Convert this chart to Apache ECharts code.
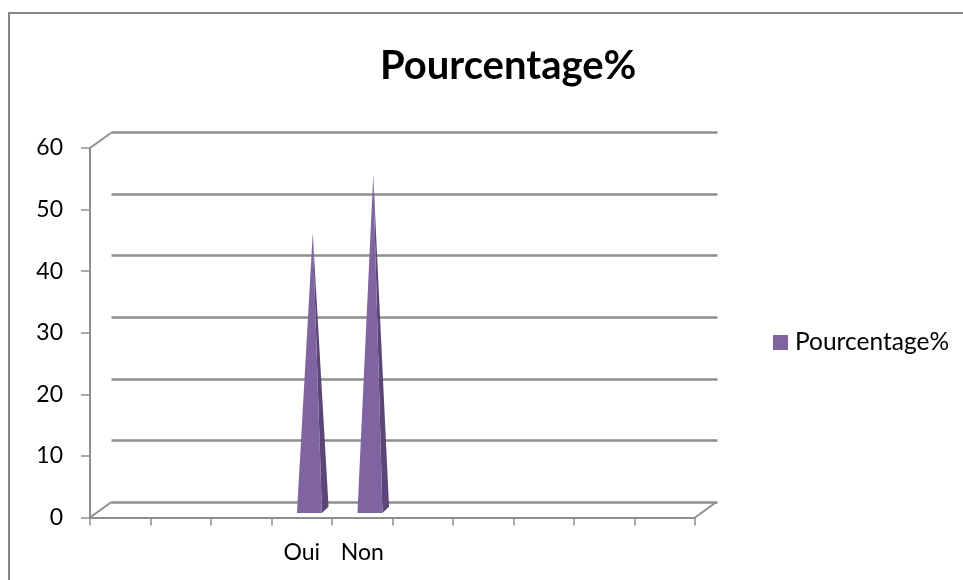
<!DOCTYPE html>
<html>
<head>
<meta charset="utf-8">
<style>
html, body { margin: 0; padding: 0; background: #fff; }
#chart { width: 963px; height: 580px; }
</style>
<script src="https://cdn.jsdelivr.net/npm/echarts@6/dist/echarts.min.js"></script>
</head>
<body>
<div id="chart"></div>
<script>
var titleText = 'Pourcentage%';
var seriesName = 'Pourcentage%';
var categories = ['', '', '', 'Oui', 'Non', '', '', '', '', ''];
var values = [null, null, null, 45, 54.4, null, null, null, null, null];

var gridColor = '#8e8e8e';
var purple = '#8064a2';
var purpleDark = '#5b4677';
var fontName = 'Lato';

// decalage du plan arriere (effet 3D d'Excel)
var depthX = 21.5, depthY = -15.5;

// diagonales qui relient le plan avant au plan arriere
var corners = [['left', 0], ['left', 60], ['right', 0]];

function renderCorner(params, api) {
	var rect = params.coordSys;
	var side = corners[params.dataIndex][0];
	var x = side == 'left' ? rect.x : rect.x + rect.width;
	var y = api.coord([0, corners[params.dataIndex][1]])[1];
	return {
		type: 'line',
		shape: { x1: x, y1: y, x2: x + depthX, y2: y + depthY },
		style: { stroke: gridColor, lineWidth: 2 }
	};
}

// une pyramide : face avant + face de cote
function renderPyramid(params, api) {
	var v = api.value(1);
	if (v == null || isNaN(v)) return;
	var base = api.coord([api.value(0), 0]);
	var top = api.coord([api.value(0), v]);
	var fx = base[0] + 7.7, fy = base[1] - 4.5;   // coin avant centre
	var half = 12.5, dx = 6.6, dy = -6.3;
	var tip = [fx + dx / 2, top[1] - 7.7];
	return {
		type: 'group',
		children: [{
			type: 'polygon',
			shape: { points: [[fx + half, fy], [fx + half + dx, fy + dy], tip] },
			style: { fill: purpleDark }
		}, {
			type: 'polygon',
			shape: { points: [[fx - half, fy], [fx + half, fy], tip] },
			style: { fill: purple }
		}]
	};
}

var chart = echarts.init(document.getElementById('chart'), null, { renderer: 'canvas' });
chart.setOption({
	animation: false,
	backgroundColor: '#fff',
	title: {
		text: titleText,
		left: 375,
		top: 41,
		textStyle: { fontFamily: fontName, fontSize: 40, fontWeight: 'bold', color: '#000' }
	},
	legend: {
		data: [{ name: seriesName, icon: 'rect', itemStyle: { color: purple } }],
		left: 768,
		top: 325,
		itemWidth: 15,
		itemHeight: 15,
		itemGap: 0,
		textStyle: { fontFamily: fontName, fontSize: 24.5, color: '#000', padding: [0, 0, 0, 2] }
	},
	graphic: [{
		type: 'rect',
		silent: true,
		shape: { x: 9, y: 13, width: 1000, height: 1000 },
		style: { fill: 'none', stroke: '#868686', lineWidth: 2 }
	}],
	grid: [
		{ left: 90, right: 268, top: 148, height: 369.5 },      // plan avant
		{ left: 111.5, right: 245.5, top: 132.5, height: 369.5 }  // plan arriere
	],
	xAxis: [{
		type: 'category',
		gridIndex: 0,
		data: categories,
		axisLine: { show: true, lineStyle: { color: gridColor, width: 2 } },
		axisTick: { show: true, alignWithLabel: false, length: 8, lineStyle: { color: gridColor, width: 1.5 } },
		axisLabel: { interval: 0, fontFamily: fontName, fontSize: 23, color: '#000', margin: 24 }
	}, {
		type: 'category',
		gridIndex: 1,
		data: categories,
		axisLine: { show: false },
		axisTick: { show: false },
		axisLabel: { show: false }
	}],
	yAxis: [{
		type: 'value',
		gridIndex: 0,
		min: 0,
		max: 60,
		interval: 10,
		axisLine: { show: true, lineStyle: { color: gridColor, width: 2 } },
		axisTick: { show: true, length: 9, lineStyle: { color: gridColor, width: 1.5 } },
		axisLabel: { fontFamily: fontName, fontSize: 23, color: '#000', margin: 27 },
		splitLine: { show: false }
	}, {
		type: 'value',
		gridIndex: 1,
		min: 0,
		max: 60,
		interval: 10,
		axisLine: { show: false },
		axisTick: { show: false },
		axisLabel: { show: false },
		splitLine: { show: true, lineStyle: { color: gridColor, width: 2.5 } }
	}],
	series: [{
		type: 'custom',
		name: 'coins',
		xAxisIndex: 0,
		yAxisIndex: 0,
		silent: true,
		z: 1,
		renderItem: renderCorner,
		data: corners.map(function (c, i) { return [i, c[1]]; })
	}, {
		type: 'custom',
		name: seriesName,
		xAxisIndex: 0,
		yAxisIndex: 0,
		z: 5,
		renderItem: renderPyramid,
		encode: { x: 0, y: 1 },
		data: categories.map(function (c, i) { return [i, values[i]]; })
	}]
});
</script>
</body>
</html>
